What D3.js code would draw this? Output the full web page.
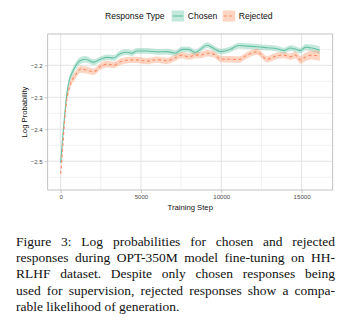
<!DOCTYPE html>
<meta charset="utf-8">
<head>
<script src="https://d3js.org/d3.v7.min.js"></script>
<style>
  body { margin: 0; background: #fff; }
  #wrap { position: relative; width: 342px; height: 321px; }
  .caption {
    position: absolute; left: 16px; top: 234px; width: 319px;
    font-family: "Liberation Serif", "Times New Roman", serif;
    font-size: 13.5px; line-height: 16.2px; color: #111;
  }
  .caption div { text-align: justify; text-align-last: justify; white-space: nowrap; }
  .caption div.last { text-align-last: left; }
</style>
</head>
<body>
<div id="wrap">
  <div id="chart"></div>
  <div class="caption">
    <div>Figure 3: Log probabilities for chosen and rejected</div>
    <div>responses during OPT-350M model fine-tuning on HH-</div>
    <div>RLHF dataset. Despite only chosen responses being</div>
    <div>used for supervision, rejected responses show a compa-</div>
    <div class="last">rable likelihood of generation.</div>
  </div>
</div>

<script>
// data
var steps = [0, 125, 250, 375, 540, 700, 900, 1230, 1540, 2050, 2470, 2890, 3300, 3720, 4130, 4440, 4750,
  5380, 6000, 6620, 7140, 7560, 7970, 8390, 8700, 9115, 9530, 9950, 10570, 11090, 11610, 12230, 12850,
  13470, 13890, 14300, 14610, 14930, 15240, 15650, 16130];
var chosen = [-2.505, -2.427, -2.355, -2.293, -2.246, -2.225, -2.205, -2.185, -2.181, -2.19, -2.181, -2.175,
  -2.177, -2.163, -2.159, -2.162, -2.155, -2.155, -2.158, -2.157, -2.162, -2.150, -2.150, -2.160, -2.150,
  -2.137, -2.147, -2.157, -2.150, -2.138, -2.140, -2.142, -2.145, -2.148, -2.154, -2.146, -2.149, -2.154,
  -2.143, -2.146, -2.153];
var rejected = [-2.54, -2.46, -2.37, -2.31, -2.27, -2.247, -2.232, -2.212, -2.214, -2.220, -2.204, -2.196,
  -2.199, -2.189, -2.184, -2.183, -2.183, -2.187, -2.182, -2.186, -2.176, -2.168, -2.173, -2.168, -2.168,
  -2.162, -2.165, -2.180, -2.181, -2.182, -2.168, -2.158, -2.181, -2.170, -2.168, -2.173, -2.168, -2.183,
  -2.174, -2.168, -2.171];
// half width of the shaded band
var chosenSe = [0.004, 0.006, 0.008, 0.01, 0.011, 0.012, 0.012, 0.011, 0.01, 0.009, 0.009, 0.009, 0.009,
  0.009, 0.009, 0.009, 0.009, 0.009, 0.009, 0.009, 0.009, 0.009, 0.009, 0.009, 0.009, 0.009, 0.009, 0.009,
  0.009, 0.009, 0.009, 0.009, 0.009, 0.009, 0.009, 0.009, 0.009, 0.009, 0.01, 0.011, 0.012];
var rejectedSe = [0.005, 0.007, 0.009, 0.011, 0.012, 0.012, 0.012, 0.011, 0.011, 0.01, 0.01, 0.01, 0.01,
  0.01, 0.01, 0.01, 0.01, 0.01, 0.01, 0.01, 0.01, 0.01, 0.01, 0.01, 0.01, 0.01, 0.01, 0.01, 0.01, 0.01,
  0.01, 0.01, 0.01, 0.01, 0.01, 0.01, 0.011, 0.012, 0.013, 0.014, 0.016];
var xTicks = [0, 5000, 10000, 15000];
var xMinor = [2500, 7500, 12500];
var yTicks = [-2.5, -2.4, -2.3, -2.2];
var yMinor = [-2.55, -2.45, -2.35, -2.25, -2.15];
var seriesNames = ["Chosen", "Rejected"];
var seriesColors = ["#66c2a5", "#fc8d62"];

var W = 342, H = 230;
var margin = {top: 34, right: 9.3, bottom: 40, left: 47.7},
    width = W - margin.left - margin.right,
    height = H - margin.top - margin.bottom;

var svg = d3.select("#chart").append("svg")
    .attr("width", W).attr("height", H)
    .style("position", "absolute").style("left", 0).style("top", 0)
    .style("font-family", "'Liberation Sans', Arial, sans-serif");

var g = svg.append("g")
    .attr("transform", "translate(" + margin.left + "," + margin.top + ")");

var x = d3.scaleLinear().domain([-807, 16937]).range([0, width]);
var y = d3.scaleLinear().domain([-2.59, -2.102]).range([height, 0]);

// grid
g.selectAll(".ymin").data(yMinor).enter().append("line")
    .attr("x1", 0).attr("x2", width)
    .attr("y1", function(d) { return y(d); }).attr("y2", function(d) { return y(d); })
    .attr("stroke", "#e3e3e3").attr("stroke-width", 0.5);
g.selectAll(".xmin").data(xMinor).enter().append("line")
    .attr("y1", 0).attr("y2", height)
    .attr("x1", function(d) { return x(d); }).attr("x2", function(d) { return x(d); })
    .attr("stroke", "#e3e3e3").attr("stroke-width", 0.5);
g.selectAll(".ymaj").data(yTicks).enter().append("line")
    .attr("x1", 0).attr("x2", width)
    .attr("y1", function(d) { return y(d); }).attr("y2", function(d) { return y(d); })
    .attr("stroke", "#dcdcdc").attr("stroke-width", 0.8);
g.selectAll(".xmaj").data(xTicks).enter().append("line")
    .attr("y1", 0).attr("y2", height)
    .attr("x1", function(d) { return x(d); }).attr("x2", function(d) { return x(d); })
    .attr("stroke", "#dcdcdc").attr("stroke-width", 0.8);

var sets = [
  {name: "Chosen", vals: chosen, se: chosenSe, color: seriesColors[0], dash: null},
  {name: "Rejected", vals: rejected, se: rejectedSe, color: seriesColors[1], dash: "3,2.6"}
];

sets.forEach(function(s) {
  var pts = steps.map(function(st, i) { return {x: st, y: s.vals[i], se: s.se[i]}; });
  g.append("path").datum(pts)
    .attr("d", d3.area().curve(d3.curveMonotoneX)
      .x(function(d) { return x(d.x); })
      .y0(function(d) { return y(d.y - d.se); })
      .y1(function(d) { return y(d.y + d.se); }))
    .attr("fill", s.color).attr("fill-opacity", 0.38);
});
sets.forEach(function(s) {
  var pts = steps.map(function(st, i) { return {x: st, y: s.vals[i]}; });
  g.append("path").datum(pts)
    .attr("d", d3.line().curve(d3.curveMonotoneX)
      .x(function(d) { return x(d.x); })
      .y(function(d) { return y(d.y); }))
    .attr("fill", "none").attr("stroke", s.color).attr("stroke-width", 1.1)
    .attr("stroke-dasharray", s.dash);
});

// panel border
g.append("rect").attr("width", width).attr("height", height)
    .attr("fill", "none").attr("stroke", "#b3b3b3").attr("stroke-width", 0.8);

// axes
var xAxis = g.append("g").attr("transform", "translate(0," + height + ")")
    .call(d3.axisBottom(x).tickValues(xTicks).tickSize(3).tickPadding(1.5).tickFormat(d3.format("d")));
var yAxis = g.append("g")
    .call(d3.axisLeft(y).tickValues(yTicks).tickSize(3).tickPadding(2).tickFormat(d3.format(".1f")));
[xAxis, yAxis].forEach(function(a) {
  a.select(".domain").remove();
  a.selectAll("line").attr("stroke", "#b3b3b3").attr("stroke-width", 0.7);
  a.selectAll("text").attr("fill", "#4d4d4d").style("font-size", "6.1px")
    .style("font-family", "'Liberation Sans', Arial, sans-serif");
});

svg.append("text").attr("x", margin.left + width / 2).attr("y", 209.5)
    .attr("text-anchor", "middle").style("font-size", "7.7px").attr("fill", "#111")
    .text("Training Step");
svg.append("text").attr("transform", "translate(26.5," + (margin.top + height / 2) + ") rotate(-90)")
    .attr("text-anchor", "middle").style("font-size", "7.7px").attr("fill", "#111")
    .text("Log Probability");

// legend
var leg = svg.append("g");
leg.append("text").attr("x", 105).attr("y", 18.8).style("font-size", "8.6px").attr("fill", "#111")
    .text("Response Type");
var keyX = [171.7, 222.7];
seriesNames.forEach(function(n, i) {
  var k = leg.append("g").attr("transform", "translate(" + keyX[i] + ",10.5)");
  k.append("rect").attr("width", 12.5).attr("height", 11)
    .attr("fill", seriesColors[i]).attr("fill-opacity", 0.38);
  k.append("line").attr("x1", 1).attr("x2", 11.5).attr("y1", 5.5).attr("y2", 5.5)
    .attr("stroke", seriesColors[i]).attr("stroke-width", 1.1)
    .attr("stroke-dasharray", i === 1 ? "3,2.6" : null);
  leg.append("text").attr("x", keyX[i] + 16).attr("y", 18.8).style("font-size", "8.6px")
    .attr("fill", "#111").text(n);
});
</script>
</body>
